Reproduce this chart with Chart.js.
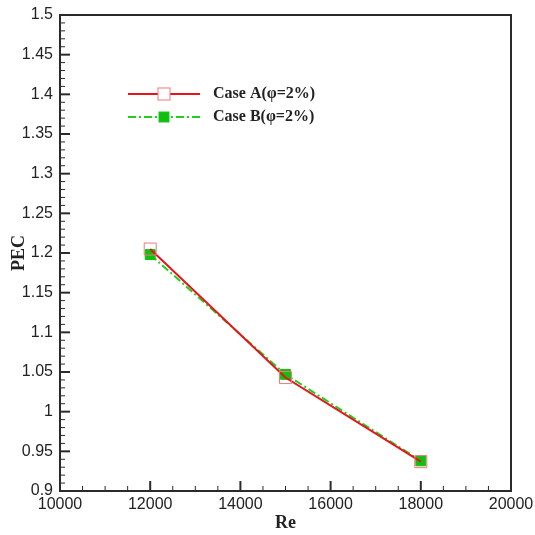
<!DOCTYPE html>
<html>
<head>
<meta charset="utf-8">
<script src="https://cdn.jsdelivr.net/npm/chart.js@4.4.1/dist/chart.umd.min.js"></script>
<style>
  html, body { margin: 0; padding: 0; background: #fff; }
  #wrap { width: 535px; height: 535px; }
</style>
</head>
<body>
<div id="wrap"><canvas id="c" width="535" height="535"></canvas></div>
<script>
// ---- data ----
const reValues = [12000, 15000, 18000];
const caseA = [1.205, 1.043, 0.937];
const caseB = [1.198, 1.047, 0.938];
const seriesLabels = ['Case A(\u03C6=2%)', 'Case B(\u03C6=2%)'];
const xTickValues = [10000, 12000, 14000, 16000, 18000, 20000];
const xTickLabels = ['10000', '12000', '14000', '16000', '18000', '20000'];
const yTickValues = [0.9, 0.95, 1, 1.05, 1.1, 1.15, 1.2, 1.25, 1.3, 1.35, 1.4, 1.45, 1.5];
const yTickLabels = ['0.9', '0.95', '1', '1.05', '1.1', '1.15', '1.2', '1.25', '1.3', '1.35', '1.4', '1.45', '1.5'];
const xTitle = 'Re';
const yTitle = 'PEC';

const toPoints = (xs, ys) => xs.map((x, i) => ({ x: x, y: ys[i] }));

const frameAndTicks = {
  id: 'frameAndTicks',
  afterDraw(chart) {
    const ctx = chart.ctx;
    const a = chart.chartArea;
    const xs = chart.scales.x, ys = chart.scales.y;
    ctx.save();
    ctx.strokeStyle = '#2a2a2a';
    const tick = (x1, y1, x2, y2) => { ctx.beginPath(); ctx.moveTo(x1, y1); ctx.lineTo(x2, y2); ctx.stroke(); };
    for (let i = 0; i < xTickValues.length; i++) {
      const px = xs.getPixelForValue(xTickValues[i]);
      ctx.lineWidth = 2;
      tick(px, a.bottom, px, a.bottom - 10);
      if (i < xTickValues.length - 1) {
        const step = (xTickValues[i + 1] - xTickValues[i]) / 4;
        for (let k = 1; k < 4; k++) {
          const mx = xs.getPixelForValue(xTickValues[i] + k * step);
          ctx.lineWidth = 1;
          tick(mx, a.bottom, mx, a.bottom - 5);
        }
      }
    }
    for (let i = 0; i < yTickValues.length; i++) {
      const py = ys.getPixelForValue(yTickValues[i]);
      ctx.lineWidth = 2;
      tick(a.left, py, a.left + 10, py);
      if (i < yTickValues.length - 1) {
        const step = (yTickValues[i + 1] - yTickValues[i]) / 5;
        for (let k = 1; k < 5; k++) {
          const my = ys.getPixelForValue(yTickValues[i] + k * step);
          ctx.lineWidth = 1;
          tick(a.left, my, a.left + 5, my);
        }
      }
    }
    ctx.lineWidth = 2;
    ctx.strokeStyle = '#2a2a2a';
    ctx.strokeRect(a.left, a.top, a.right - a.left, a.bottom - a.top);
    ctx.restore();
  }
};

const lineLegend = {
  id: 'lineLegend',
  afterDraw(chart) {
    const ctx = chart.ctx;
    const a = chart.chartArea;
    const x0 = a.left + 68, x1 = a.left + 140, xm = (x0 + x1) / 2, xt = a.left + 153;
    const rows = [a.top + 79, a.top + 102];
    ctx.save();
    chart.data.datasets.forEach((ds, i) => {
      const y = rows[i];
      ctx.strokeStyle = ds.borderColor;
      ctx.lineWidth = ds.borderWidth;
      ctx.setLineDash(ds.borderDash || []);
      ctx.beginPath(); ctx.moveTo(x0, y); ctx.lineTo(x1, y); ctx.stroke();
      ctx.setLineDash([]);
      const s = ds.pointRadius * Math.SQRT2;
      if (ds.pointBackgroundColor && ds.pointBackgroundColor !== 'rgba(0,0,0,0)') {
        ctx.fillStyle = ds.pointBackgroundColor;
      } else {
        ctx.fillStyle = '#fff';
      }
      ctx.fillRect(xm - s / 2, y - s / 2, s, s);
      ctx.strokeStyle = ds.pointBorderColor;
      ctx.lineWidth = ds.pointBorderWidth;
      ctx.strokeRect(xm - s / 2, y - s / 2, s, s);
      ctx.fillStyle = '#222';
      ctx.font = 'bold 16px "Liberation Serif", "Times New Roman", serif';
      ctx.textBaseline = 'middle';
      ctx.textAlign = 'left';
      ctx.fillText(ds.label, xt, y);
    });
    ctx.restore();
  }
};

new Chart(document.getElementById('c'), {
  type: 'scatter',
  data: {
    datasets: [
      {
        label: seriesLabels[0],
        data: toPoints(reValues, caseA),
        showLine: true,
        borderColor: '#e8141c',
        borderWidth: 2,
        pointStyle: 'rect',
        pointRadius: 8.5,
        pointBackgroundColor: 'rgba(0,0,0,0)',
        pointBorderColor: '#f07a7a',
        pointBorderWidth: 1
      },
      {
        label: seriesLabels[1],
        data: toPoints(reValues, caseB),
        showLine: true,
        borderColor: '#1fd11f',
        borderWidth: 2,
        borderDash: [8, 3, 2, 3],
        pointStyle: 'rect',
        pointRadius: 7,
        pointBackgroundColor: '#10c010',
        pointBorderColor: '#10c010',
        pointBorderWidth: 1
      }
    ]
  },
  options: {
    responsive: false,
    animation: false,
    devicePixelRatio: 1,
    layout: { padding: { top: 15, right: 24, left: 0, bottom: 0 } },
    plugins: { legend: { display: false }, tooltip: { enabled: false } },
    scales: {
      x: {
        type: 'linear',
        min: 10000, max: 20000,
        afterBuildTicks: (s) => { s.ticks = xTickValues.map(v => ({ value: v })); },
        afterFit: (s) => { s.height = 44; s.paddingLeft = 0; s.paddingRight = 0; },
        ticks: {
          autoSkip: false, maxRotation: 0, padding: 4,
          color: '#222',
          font: { family: '"Liberation Sans", Arial, sans-serif', size: 16 },
          callback: (v, i) => xTickLabels[i]
        },
        grid: { display: false, drawTicks: false },
        border: { display: false },
        title: {
          display: true, text: xTitle, color: '#222',
          font: { family: '"Liberation Serif", "Times New Roman", serif', size: 18, weight: 'bold' },
          padding: { top: 0, bottom: 1 }
        }
      },
      y: {
        type: 'linear',
        min: 0.9, max: 1.5,
        afterBuildTicks: (s) => { s.ticks = yTickValues.map(v => ({ value: v })); },
        afterFit: (s) => { s.width = 60; s.paddingTop = 0; s.paddingBottom = 0; },
        ticks: {
          autoSkip: false, padding: 7,
          color: '#222',
          font: { family: '"Liberation Sans", Arial, sans-serif', size: 16 },
          callback: (v, i) => yTickLabels[i]
        },
        grid: { display: false, drawTicks: false },
        border: { display: false },
        title: {
          display: true, text: yTitle, color: '#222',
          font: { family: '"Liberation Serif", "Times New Roman", serif', size: 18, weight: 'bold' },
          padding: { top: 9, bottom: 0 }
        }
      }
    }
  },
  plugins: [frameAndTicks, lineLegend]
});
</script>
</body>
</html>
